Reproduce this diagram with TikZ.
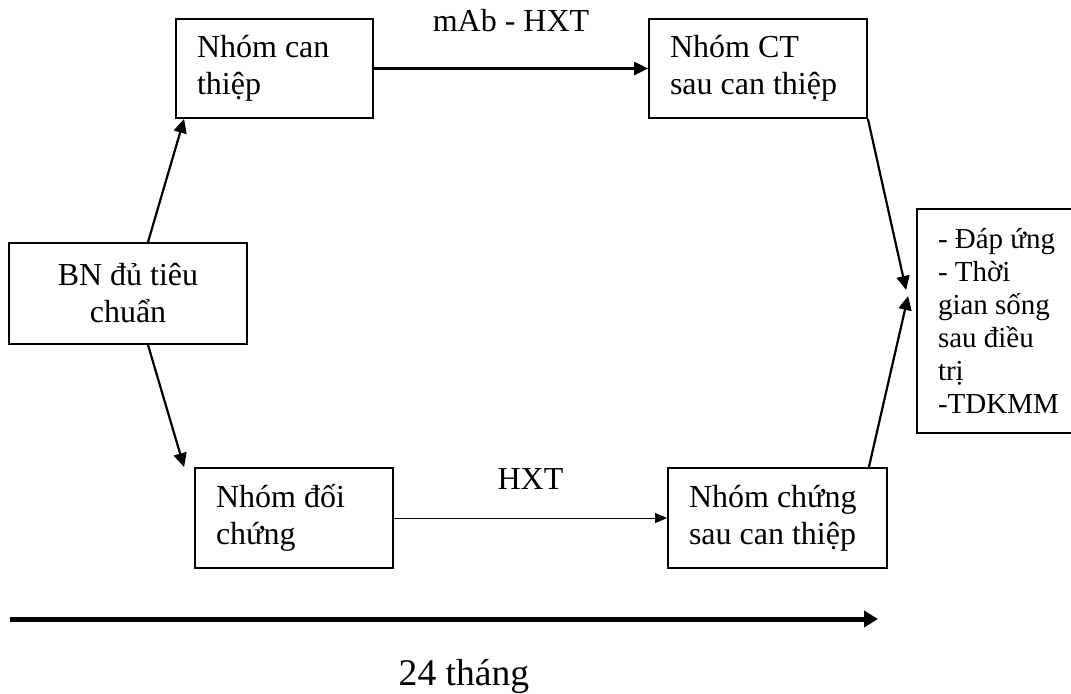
\documentclass[tikz,border=0pt]{standalone}
\usepackage{fontspec}
\setmainfont{Liberation Serif}
\usetikzlibrary{positioning,arrows.meta,calc}

\begin{document}
\begin{tikzpicture}[
    x=0.5pt, y=-0.5pt,
    font=\fontsize{16}{18.5}\selectfont,
    box/.style={draw, line width=0.9pt, inner xsep=10.5pt, inner ysep=3pt,
      align=flush left, minimum height=50pt},
    arr/.style={-{Triangle[length=7pt,width=6.5pt]}, line width=1.1pt},
    thinarr/.style={-{Triangle[length=6pt,width=5pt]}, line width=0.5pt},
    timearr/.style={-{Triangle[length=7pt,width=8pt]}, line width=2.5pt},
    lbl/.style={inner sep=0pt},
  ]
\useasboundingbox (0,0) rectangle (1071,693);

% Start
\node[box, align=flush center, text width=98pt, minimum height=50.5pt] (bn) at (128,293.5)
  {BN đủ tiêu\\chuẩn};

% Two arms
\node[box, text width=77.5pt, minimum height=49.5pt] (can) at (274.5,68.5) {Nhóm can\\thiệp};
\node[box, text width=88pt, minimum height=49.5pt] (ctsau) at (758,68.5) {Nhóm CT\\sau can thiệp};
\node[box, text width=78pt] (doi) at (294,518) {Nhóm đối\\chứng};
\node[box, text width=88.5pt] (chungsau) at (777.5,518) {Nhóm chứng\\sau can thiệp};

% Outcomes
\node[box, text width=64pt, minimum height=112pt,
      font=\fontsize{14.5}{16.5}\selectfont] (kq) at (1002,321)
  {- Đáp ứng\\- Thời\\gian sống\\sau điều\\trị\\-TDKMM};

% Arrows
\draw[arr] ($(bn.north)+(20,0)$) -- ($(can.south west)+(9,0)$);
\draw[arr] ($(bn.south)+(20,0)$) -- ($(doi.north west)+(-10,0)$);
\draw[arr] (can) -- node[lbl, above=18pt] {mAb - HXT} (ctsau);
\draw[thinarr] (doi) -- node[lbl, above=14pt] {HXT} (chungsau);
\draw[arr] (ctsau.south east) -- ($(kq.west)+(-10,-31)$);
\draw[arr] ($(chungsau.north east)+(-19,0)$) -- ($(kq.west)+(-8,-25)$);

% Time axis
\coordinate (tstart) at (10,619);
\coordinate (tend) at (878,619);
\draw[timearr] (tstart) -- (tend);
\node[font=\fontsize{18.8}{22}\selectfont] (dur) at (464,676) {24 tháng};

\end{tikzpicture}
\end{document}
